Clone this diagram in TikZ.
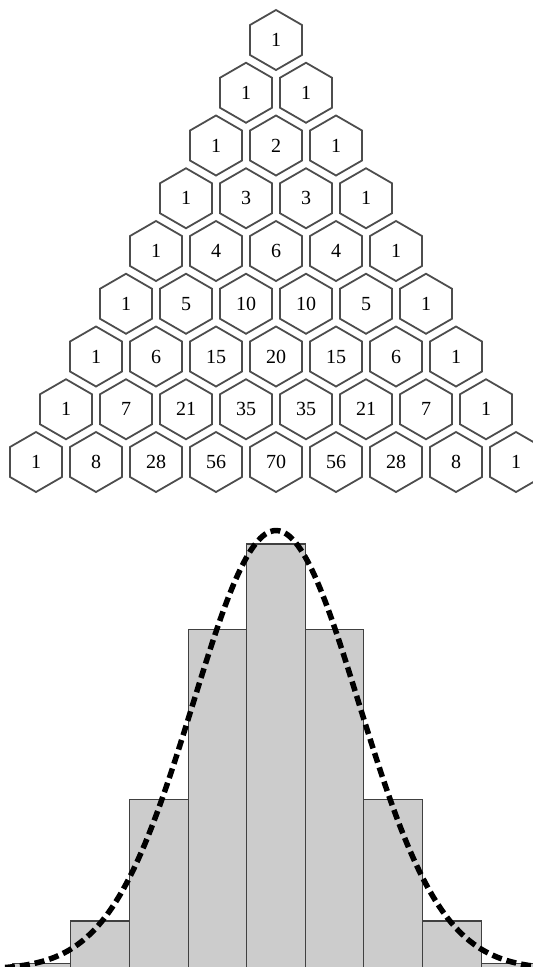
\documentclass[tikz,border=0pt]{standalone}
\usepackage{fontspec}
\setmainfont{Liberation Serif}
\usetikzlibrary{shapes.geometric}
\definecolor{hexgray}{HTML}{4D4D4D}
\definecolor{barfill}{HTML}{CCCCCC}
\definecolor{bargray}{HTML}{404040}
\begin{document}
\begin{tikzpicture}[x=1pt,y=-1pt,
  hexcell/.style={regular polygon, regular polygon sides=6, shape border rotate=30,
    minimum size=60pt, inner sep=0pt, outer sep=0pt, draw=hexgray, line width=1.8pt,
    font=\fontsize{20}{20}\selectfont},
  bar/.style={fill=barfill, draw=bargray, line width=1.1pt},
  bell/.style={line width=5.5pt, dash pattern=on 10pt off 5pt, black}]
\useasboundingbox (0,0) rectangle (533,967);
\clip (0,0) rectangle (533,967);
% Pascal triangle
\foreach \rowvals [count=\r from 0] in {{1},{1,1},{1,2,1},{1,3,3,1},{1,4,6,4,1},{1,5,10,10,5,1},{1,6,15,20,15,6,1},{1,7,21,35,35,21,7,1},{1,8,28,56,70,56,28,8,1}}{
  \foreach \v [count=\k from 0] in \rowvals {
    \node[hexcell] (h-\r-\k) at ({276+(\k-\r/2)*60}, {40+\r*52.75}) {\v};
  }
}
% histogram
\foreach \h [count=\i from 0] in {1,8,28,56,70,56,28,8,1}{
  \draw[bar] ({276+(\i-4.5)*58.6}, 972) rectangle ({276+(\i-3.5)*58.6}, {969.6-6.08*\h});
}
% normal curve
\draw[bell] plot[smooth, domain=-10:545, samples=120] (\x, {969.6-439*exp(-0.5*((\x-276)/82.9)^2)});
\end{tikzpicture}
\end{document}
